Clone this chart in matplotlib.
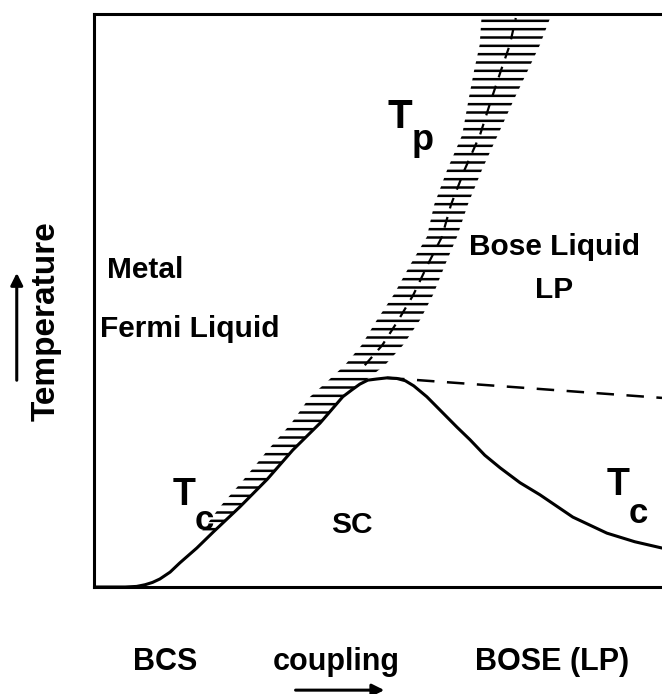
import numpy as np
import matplotlib
matplotlib.use("Agg")
import matplotlib.pyplot as plt

plt.rcParams['font.family'] = ['Liberation Sans', 'DejaVu Sans']
plt.rcParams['font.weight'] = 'bold'
plt.rcParams['hatch.linewidth'] = 1.8

# ---- data (coupling 0..10, temperature 0..10) ----
tc_x = [0.0, 0.55, 0.75, 0.90, 1.03, 1.16, 1.34, 1.51, 1.81, 2.10, 2.57, 3.05, 3.50, 3.98, 4.38,
        4.54, 4.68, 4.82, 4.98, 5.16, 5.33, 5.48, 5.63, 5.86, 6.09, 6.39, 6.62,
        6.88, 7.15, 7.50, 7.85, 8.43, 9.03, 9.52, 10.0]
tc_y = [0.0, 0.0, 0.01, 0.04, 0.08, 0.14, 0.26, 0.42, 0.68, 0.96, 1.40, 1.88, 2.39, 2.86, 3.32,
        3.44, 3.54, 3.61, 3.63, 3.65, 3.64, 3.60, 3.51, 3.32, 3.09, 2.79, 2.57,
        2.30, 2.08, 1.82, 1.61, 1.22, 0.94, 0.79, 0.68]

# pseudogap crossover T_p (right edge of hatched band)
tp_x = [2.10, 2.57, 3.05, 3.50, 3.98, 4.38, 4.77, 5.12, 5.44, 5.74, 5.97, 6.18,
        6.39, 6.58, 6.83, 7.11, 7.39, 7.64, 7.85, 8.03]
tp_y = [0.96, 1.40, 1.88, 2.39, 2.86, 3.32, 3.60, 3.87, 4.22, 4.66, 5.10, 5.62,
        6.11, 6.67, 7.28, 7.89, 8.50, 9.02, 9.46, 9.93]
# width of the hatched band
band_y = [0.96, 1.52, 2.39, 3.26, 3.79, 4.66, 5.53, 6.11, 6.75, 7.98, 8.76, 9.46, 10.0]
band_w = [0.21, 0.39, 0.44, 0.56, 0.70, 0.76, 0.63, 0.53, 0.60, 0.63, 0.88, 1.06, 1.23]

# dashed extension of T_p into the Bose liquid
dash_x = [5.16, 10.0]
dash_y = [3.65, 3.30]

fig = plt.figure(figsize=(6.62, 6.94), dpi=100)
ax = fig.add_axes([94/662, 1-587/694, 1-94/662, (587-14)/694])
ax.set_xlim(0, 10)
ax.set_ylim(0, 10)
ax.set_xticks([])
ax.set_yticks([])
for s in ['left', 'bottom', 'top']:
    ax.spines[s].set_linewidth(2.2)
ax.spines['right'].set_visible(False)

# hatched T_p band
yy = np.array(tp_y)
xr = np.array(tp_x)
wl = np.interp(yy, band_y, band_w)
ax.fill_betweenx(yy, xr - wl, xr, facecolor='none', edgecolor='black',
                 hatch='--', linewidth=0)
# spine of the band (crossing ticks)
sel = yy > 3.6
ax.plot((xr - 0.5 * wl)[sel], yy[sel], color='black', lw=1.6,
        dashes=(5, 4))

# T_c curve
ax.plot(tc_x, tc_y, color='black', lw=2.2, solid_capstyle='round',
        solid_joinstyle='round')
# dashed line
ax.plot(dash_x, dash_y, color='black', lw=1.8, dashes=(7, 5))

fs = 21.5
kw = dict(color='black', fontweight='bold', clip_on=False)
ax.text(0.23, 5.39, 'Metal', fontsize=fs, ha='left', va='baseline', **kw)
ax.text(0.11, 4.36, 'Fermi Liquid', fontsize=fs, ha='left', va='baseline', **kw)
ax.text(8.10, 5.79, 'Bose Liquid', fontsize=fs, ha='center', va='baseline', **kw)
ax.text(8.10, 5.04, 'LP', fontsize=fs, ha='center', va='baseline', **kw)
ax.text(4.54, 0.94, 'SC', fontsize=fs, ha='center', va='baseline', **kw)
# T_c labels
ax.text(1.39, 1.43, 'T', fontsize=27, ha='left', va='baseline', **kw)
ax.text(1.78, 0.99, 'c', fontsize=25, ha='left', va='baseline', **kw)
ax.text(9.02, 1.61, 'T', fontsize=27, ha='left', va='baseline', **kw)
ax.text(9.42, 1.12, 'c', fontsize=25, ha='left', va='baseline', **kw)
# T_p label
ax.text(5.16, 8.01, 'T', fontsize=29, ha='left', va='baseline', **kw)
ax.text(5.60, 7.62, 'p', fontsize=26, ha='left', va='baseline', **kw)

# bottom labels
ax.text(1.25, -1.45, 'BCS', fontsize=22, ha='center', va='baseline', **kw)
ax.text(4.26, -1.45, 'coupling', fontsize=22, ha='center', va='baseline', **kw)
ax.text(8.06, -1.45, 'BOSE (LP)', fontsize=22, ha='center', va='baseline', **kw)
ax.annotate('', xy=(5.16, -1.80), xytext=(3.50, -1.80), xycoords='data',
            annotation_clip=False,
            arrowprops=dict(arrowstyle='-|>', color='black', lw=2.2,
                            mutation_scale=18))

# y label
ax.text(-0.85, 4.64, 'Temperature', fontsize=24, rotation=90, ha='center',
        va='center', **kw)
ax.annotate('', xy=(-1.36, 5.53), xytext=(-1.36, 3.56), xycoords='data',
            annotation_clip=False,
            arrowprops=dict(arrowstyle='-|>', color='black', lw=2.2,
                            mutation_scale=18))

fig.savefig('out.png', dpi=100, facecolor='white')
